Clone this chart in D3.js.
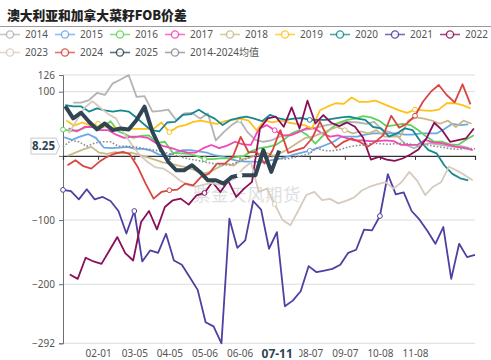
<!DOCTYPE html>
<html><head><meta charset="utf-8">
<script src="https://cdn.jsdelivr.net/npm/d3@7/dist/d3.min.js"></script>
<style>
body{margin:0;background:#fff;}
svg{display:block;font-family:"Noto Sans","Liberation Sans",sans-serif;}
</style>
</head><body>
<svg id="chart" width="491" height="360"></svg>
<script>
const seriesNames = ["2014","2015","2016","2017","2018","2019","2020","2021","2022","2023","2024","2025","2014-2024均值"];
const seriesColors = ["#b3b3b3","#6aa8e6","#5fd45a","#f545b6","#c9b98a","#ffc21a","#16888f","#4f3fa0","#8a0f58","#d6cbbd","#d9463f","#2f4554","#8c8c8c"];
const seriesStart = ["2014-01-10","2015-01-02","2016-01-01","2017-01-06","2018-01-05","2019-01-04","2020-01-03","2021-01-01","2022-01-07","2023-01-06","2024-01-05","2025-01-03","2025-01-01"];

const v2014 = [83,83,87,98,95,113,119,126,92,93,69,70,72,56,66,67,58,66,24,37,48,56,37,25,22,24,30,32,35,40,42,45,48,50,52,53,52,50,53,40,37,30,17,12,17,20,18,16,14,15,12];
const v2015 = [29,25,30,34,28,13,12,13,14,11,11,8,2,0,5,9,9,7,5,1,-1,-5,-8,-9,-9,-10,-7,-5,-2,2,5,8,12,17,22,30,30,30,33,35,35,35,35,33,33,35,35,35,42,50,48,49];
const v2016 = [41,39,40,45,48,44,54,38,33,28,31,32,20,22,5,4,3,0,-5,-5,-4,-4,-2,0,8,12,14,17,25,35,40,32,19,32,43,52,56,58,62,60,55,46,48,50,48,40,30,22,22,18,17,25,32];
const v2017 = [43,38,45,45,40,40,33,28,30,30,28,20,15,12,8,5,5,12,17,12,16,22,18,17,42,48,40,32,32,37,43,43,35,30,32,28,24,24,23,23,24,23,17,17,17,25,21,20,17,14,12,9];
const v2018 = [0,5,10,14,5,3,6,4,5,2,-2,-6,-10,-12,-15,-18,-22,-28,-25,-18,-12,-15,-5,-3,3,5,0,5,12,20,28,30,35,40,45,40,35,38,35,40,30,30,30,55,60,58,55,50,55,45,55,50];
const v2019 = [55,47,52,48,50,45,44,43,42,42,42,42,52,37,45,48,53,55,52,50,54,56,58,55,40,55,52,55,52,50,48,43,71,77,82,81,91,84,84,86,81,76,71,67,72,71,70,72,82,82,79,74];
const v2020 = [79,77,77,69,74,71,69,71,69,61,50,40,38,52,53,64,65,72,64,58,48,56,59,61,58,54,64,59,56,58,59,56,56,56,58,60,61,58,56,45,43,30,35,43,40,22,9,4,-15,-28,-35,-38];
const v2021 = [-53,-55,-67.7,-52,-67.7,-64,-70.3,-85.9,-121,-85.9,-164.5,-147.3,-151,-121.3,-163,-169.7,-189,-208.8,-259.3,-265.6,-292,-97.9,-143.2,-131.7,-70.3,-83.8,-144.7,-118.7,-234.3,-225.5,-210.9,-171.8,-181.2,-178.6,-176,-169.7,-151,-146.3,-115,-116,-93.7,-28.6,-60,-57,-85.9,-99.4,-117,-137,-110.9,-191.6,-137,-157.8,-154.1];
const v2022 = [-184.8,-191.6,-158.8,-164.5,-168.2,-147.3,-126.5,-151.5,-163,-103.1,-85.9,-114.5,-79.6,-69.2,-66.6,-76,-61.4,-57.8,-40.6,-56.2,-39,-64,-51,-40.6,42.7,58.4,61,45.3,75.5,42.7,86,50.5,63.6,51.6,46.4,52.1,45.3,28.7,-5.7,-1.5,-5.7,-7.8,-4.1,2.1,9.9,27,51.6,40.1,21.9,24.5,27.1,42.7];
const v2023 = [35,55,75,85,75,65,58,35,17,1,-10,-18,-20,-28,-38,-45,-48,-45,-42,-45,-40,-35,-20,-10,-56,-51,-75,-100,-108,-85,-61,-56,-69,-67,-74,-70,-65,-54,-48,-44,-41,-51,-41,-25,-39,-61,-48,-41,-17,-23,-30,-38];
const v2024 = [-14.5,-6.7,-16.1,-19.8,-9.3,-1.5,3.7,6.3,2.6,-17.2,-43.2,-66.6,-56.2,-53.6,-52.6,-43.2,-45.8,-32.8,-27.6,-12,-12,-1.5,29.7,5.3,6.3,-12,8,40.1,4.7,8.9,13,27.1,53.2,27.1,13,21.9,27.1,21.9,14.1,21.9,32.3,62.5,43.8,50.5,62.5,84.4,100,110.5,94.8,83.4,111.5,80.2];
const v2025 = [77.6,58.4,67.2,53.2,41.2,50.5,40.1,42.7,41.2,55.8,76.6,37.5,11.5,-9.3,-22.4,-22.4,-14.5,-25,-38,-38,-43.2,-32.8,-30.2,-30.2,-30.2,8.9,-25,8.25];
const vAvg = [14,24,22,15,20,22,22,15,15,14,12,10,8,5,2,-2,-5,-7,-10,-12,-14,-14,-10,-5,0,2,0,-4,-5,-3,0,3,12,8,8,10,14,16,17,20,19,18,19,20,18,16,17,15,13,11,10,12,11];
const seriesValues = [v2014,v2015,v2016,v2017,v2018,v2019,v2020,v2021,v2022,v2023,v2024,v2025,vAvg];

const yTicks = [126,100,0,-100,-200,-292];
const yLabelHidden = [0];            // covered by the pointer label in the reference
const xTickDates = ["02-01","03-05","04-05","05-06","06-06","07-07","08-07","09-07","10-08","11-08"];
const xLabelHidden = ["07-07"];      // covered by the pointer label in the reference
const pointerDate = "07-11";
const pointerValue = 8.25;
const titleText = "澳大利亚和加拿大菜籽FOB价差";
const watermark = "紫金天风期货";

const svg = d3.select("#chart");
const parse = d3.timeParse("%Y-%m-%d");
const common = md => parse("2025-" + md);
const fmtMD = d3.timeFormat("%m-%d");

const x = d3.scaleTime().domain([common("01-01"), common("12-31")]).range([63, 475]);
const y = d3.scaleLinear().domain([-292, 126]).range([343.3, 75]);

// title
const title = svg.append("text").attr("x", 7).attr("y", 20).text(titleText)
  .attr("font-family", "'Noto Sans CJK SC',sans-serif").attr("font-weight", 900)
  .attr("font-size", 15).attr("fill", "#222");
const tw = title.node().getComputedTextLength();
if (tw > 0) title.attr("font-size", 15 * 180 / tw);
svg.append("line").attr("x1", 0).attr("x2", 491).attr("y1", 26.5).attr("y2", 26.5)
  .attr("stroke", "#9a9a9a").attr("stroke-width", 1);

// legend
const legend = svg.append("g");
seriesNames.forEach((name, i) => {
  const row = i < 9 ? 0 : 1;
  const col = i < 9 ? i : i - 9;
  const g = legend.append("g").attr("transform", `translate(${col * 55},${row === 0 ? 34.5 : 52.5})`);
  g.append("line").attr("x1", 0).attr("x2", 20).attr("y1", 0).attr("y2", 0)
    .attr("stroke", seriesColors[i]).attr("stroke-width", 1.6).attr("opacity", 0.75);
  g.append("circle").attr("cx", 10).attr("cy", 0).attr("r", 3.6)
    .attr("fill", "#fff").attr("stroke", seriesColors[i]).attr("stroke-width", 1.3).attr("opacity", 0.85);
  g.append("text").attr("x", 25).attr("y", 3.6).text(name)
    .attr("font-size", 10).attr("fill", "#555")
    .attr("font-family", "'Noto Sans','Noto Sans CJK SC',sans-serif");
});

// grid
const grid = svg.append("g");
[126, 100, -100, -200, -292].forEach(v => {
  grid.append("line").attr("x1", 63).attr("x2", 475).attr("y1", y(v)).attr("y2", y(v))
    .attr("stroke", "#dcdcdc").attr("stroke-width", 1);
});

// watermark
svg.append("text").attr("x", 247).attr("y", 201).attr("text-anchor", "middle")
  .text(watermark).attr("font-size", 17.5).attr("letter-spacing", 0.5)
  .attr("font-family", "'Noto Sans CJK SC',sans-serif")
  .attr("fill", "#d8d8d8").attr("opacity", 0.8);

// y axis
const yAxis = svg.append("g").attr("transform", "translate(63,0)")
  .call(d3.axisLeft(y).tickValues(yTicks).tickSize(4)
    .tickFormat(d => yLabelHidden.includes(d) ? "" : d3.format("d")(d)));
yAxis.select(".domain").attr("stroke", "#6e6e6e");
yAxis.selectAll(".tick line").attr("stroke", "#6e6e6e");
yAxis.selectAll("text").attr("font-size", 10).attr("fill", "#555").attr("dx", "-1")
  .attr("font-family", "'Noto Sans',sans-serif");

// zero axis with ticks
const tickDates = xTickDates.map(common);
const zeroAxis = svg.append("g").attr("transform", `translate(0,${y(0)})`)
  .call(d3.axisBottom(x).tickValues(tickDates).tickSize(4).tickFormat(""));
zeroAxis.select(".domain").attr("stroke", "#333").attr("stroke-width", 1.2);
zeroAxis.selectAll(".tick line").attr("stroke", "#333");

// bottom labels
const bottom = svg.append("g").attr("transform", "translate(0,343.3)")
  .call(d3.axisBottom(x).tickValues(tickDates).tickSize(0).tickPadding(7)
    .tickFormat(d => xLabelHidden.includes(fmtMD(d)) ? "" : fmtMD(d)));
bottom.select(".domain").remove();
bottom.selectAll("text").attr("font-size", 10).attr("fill", "#555")
  .attr("font-family", "'Noto Sans',sans-serif");

// series
const markerMD = new Set(["01-01", ...xTickDates]);
function pts(i) {
  const s = parse(seriesStart[i]);
  return seriesValues[i].map((v, k) => {
    const d = d3.timeDay.offset(s, 7 * k);
    const md = fmtMD(d);
    return { md, date: common(md), v };
  });
}
const line = d3.line().x(d => x(d.date)).y(d => y(d.v));
const order = [0,1,2,3,4,5,6,7,8,9,10,12,11];
const lines = svg.append("g");
order.forEach(i => {
  const p = pts(i);
  const isAvg = i === 12, is25 = i === 11;
  lines.append("path").datum(p).attr("d", line).attr("fill", "none")
    .attr("stroke", seriesColors[i])
    .attr("stroke-width", is25 ? 4 : (isAvg ? 1.6 : 1.8))
    .attr("stroke-dasharray", isAvg ? "1.6,1.8" : null)
    .attr("stroke-linejoin", "round");
  lines.selectAll(null).data(p.filter(d => markerMD.has(d.md) && !isAvg)).enter()
    .append("circle").attr("cx", d => x(d.date)).attr("cy", d => y(d.v)).attr("r", 2.4)
    .attr("fill", "#fff").attr("stroke", is25 ? "#fff" : seriesColors[i]).attr("stroke-width", 1);
});

// pointer labels
const py = y(pointerValue) - 4.5;
const pl = svg.append("g");
pl.append("path")
  .attr("d", `M31,${py-8} H56 L59.5,${py} L56,${py+8} H31 Z`)
  .attr("fill", "#fff").attr("stroke", "#c9c9c9").attr("stroke-width", 1);
pl.append("text").attr("x", 43.5).attr("y", py + 4.2).attr("text-anchor", "middle")
  .text(pointerValue).attr("font-size", 11.5).attr("font-weight", 700).attr("fill", "#2f4554")
  .attr("font-family", "'Noto Sans',sans-serif");
const px = x(common(pointerDate)) - 2;
pl.append("rect").attr("x", px - 22).attr("y", 345).attr("width", 44).attr("height", 15).attr("fill", "#fff");
pl.append("text").attr("x", px).attr("y", 357.5).attr("text-anchor", "middle")
  .text(pointerDate).attr("font-size", 12).attr("font-weight", 700).attr("fill", "#2f4554")
  .attr("font-family", "'Noto Sans',sans-serif");
</script>
</body></html>
